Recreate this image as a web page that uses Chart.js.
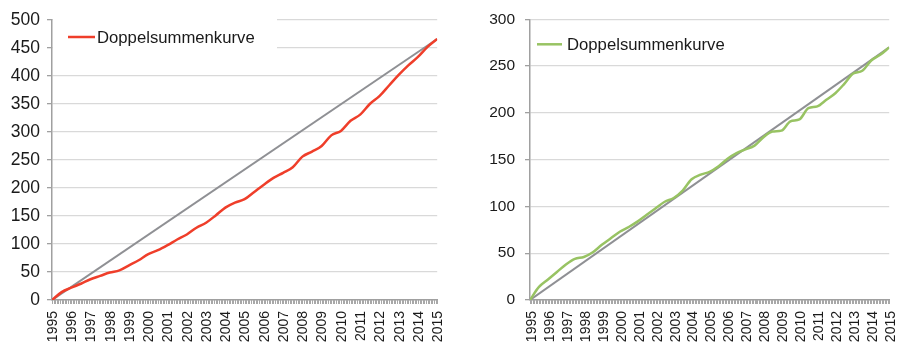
<!DOCTYPE html>
<html>
<head>
<meta charset="utf-8">
<script src="https://cdn.jsdelivr.net/npm/chart.js"></script>
<style>
  html, body { margin: 0; padding: 0; background: #fff; }
  #wrap { position: relative; width: 917px; height: 343px; overflow: hidden; }
  #left { position: absolute; left: 0; top: 0; }
  #right { position: absolute; left: 465px; top: 0; }
</style>
</head>
<body>
<div id="wrap">
  <canvas id="left" width="465" height="343"></canvas>
  <canvas id="right" width="452" height="343"></canvas>
</div>
<script>
// half-year sample points
const periods = [1995, 1995.5, 1996, 1996.5, 1997, 1997.5, 1998, 1998.5, 1999, 1999.5,
  2000, 2000.5, 2001, 2001.5, 2002, 2002.5, 2003, 2003.5, 2004, 2004.5,
  2005, 2005.5, 2006, 2006.5, 2007, 2007.5, 2008, 2008.5, 2009, 2009.5,
  2010, 2010.5, 2011, 2011.5, 2012, 2012.5, 2013, 2013.5, 2014, 2014.5, 2015];
const yearLabels = [1995, 1996, 1997, 1998, 1999, 2000, 2001, 2002, 2003, 2004,
  2005, 2006, 2007, 2008, 2009, 2010, 2011, 2012, 2013, 2014, 2015];

const leftValues = [0, 14, 22, 29, 37, 43, 49, 53, 62, 71,
  82, 89, 98, 108, 117, 129, 138, 151, 165, 174,
  180, 193, 206, 218, 227, 237, 256, 265, 275, 294,
  302, 320, 331, 350, 364, 383, 402, 419, 434, 452, 466];
const rightValues = [0, 14, 22, 30, 38, 44, 46, 51, 59, 66,
  73, 78, 84, 91, 98, 105, 109, 117, 129, 134,
  137, 143, 151, 157, 161, 165, 174, 180, 181, 191,
  193, 205, 207, 214, 221, 231, 242, 245, 256, 262, 270];

// straight reference line: start and end value
const leftDiagonal = [0, 466];
const rightDiagonal = [0, 270];

const leftTicks = [0, 50, 100, 150, 200, 250, 300, 350, 400, 450, 500];
const rightTicks = [0, 50, 100, 150, 200, 250, 300];

const seriesName = 'Doppelsummenkurve';
const FONT = "'Liberation Sans', Arial, sans-serif";

// draws the legend inside the plot, on a white patch
const insideLegend = {
  id: 'insideLegend',
  beforeDatasetsDraw(chart, args, opts) {
    const { ctx, chartArea } = chart;
    const ds = chart.data.datasets[0];
    ctx.save();
    if (opts.patch) {
      ctx.fillStyle = '#fff';
      ctx.fillRect(chartArea.left + 1, chartArea.top - 2, opts.patch[0], opts.patch[1]);
    }
    const x = chartArea.left + opts.dx, y = chartArea.top + opts.dy;
    ctx.strokeStyle = ds.borderColor;
    ctx.lineWidth = 2.5;
    ctx.beginPath();
    ctx.moveTo(x, y);
    ctx.lineTo(x + opts.len, y);
    ctx.stroke();
    ctx.fillStyle = '#1a1a1a';
    ctx.font = opts.size + 'px ' + FONT;
    ctx.textBaseline = 'middle';
    ctx.fillText(ds.label, x + opts.len + opts.gap, y + 1);
    ctx.restore();
  }
};

// monthly hatch marks under the x axis
const monthHatch = {
  id: 'monthHatch',
  afterDraw(chart) {
    const { ctx, chartArea, scales } = chart;
    const xs = scales.x;
    ctx.save();
    ctx.strokeStyle = '#a8a8a8';
    ctx.lineWidth = 1;
    ctx.beginPath();
    for (let m = 0; m <= 240; m++) {
      const px = Math.round(xs.getPixelForValue(1995 + m / 12)) + 0.5;
      ctx.moveTo(px, chartArea.bottom);
      ctx.lineTo(px, chartArea.bottom + 4);
    }
    ctx.stroke();
    ctx.restore();
  }
};

function makeChart(id, values, diagonal, ticks, color, cfg) {
  const yMax = ticks[ticks.length - 1];
  return new Chart(document.getElementById(id), {
    type: 'line',
    data: {
      datasets: [
        {
          label: seriesName,
          data: periods.map((p, i) => ({ x: p, y: values[i] })),
          borderColor: color,
          borderWidth: 2.5,
          pointRadius: 0,
          cubicInterpolationMode: 'monotone'
        },
        {
          label: 'diagonal',
          data: [{ x: periods[0], y: diagonal[0] }, { x: periods[periods.length - 1], y: diagonal[1] }],
          borderColor: '#8f9094',
          borderWidth: 2,
          pointRadius: 0
        }
      ]
    },
    options: {
      responsive: false,
      animation: false,
      devicePixelRatio: 1,
      layout: { padding: cfg.pad },
      plugins: {
        legend: { display: false },
        tooltip: { enabled: false },
        insideLegend: cfg.legend
      },
      scales: {
        x: {
          type: 'linear',
          min: yearLabels[0],
          max: yearLabels[yearLabels.length - 1],
          afterBuildTicks: s => { s.ticks = yearLabels.map(v => ({ value: v })); },
          afterFit: s => { s.height = 43; },
          grid: { display: false, drawTicks: false },
          border: { display: true, color: '#a0a0a0', width: 1.5 },
          ticks: {
            autoSkip: false,
            minRotation: 90,
            maxRotation: 90,
            padding: 11,
            labelOffset: cfg.labelOffset,
            color: '#1a1a1a',
            font: { family: FONT, size: 14 },
            callback: v => String(v)
          }
        },
        y: {
          min: 0,
          max: yMax,
          afterBuildTicks: s => { s.ticks = ticks.map(v => ({ value: v })); },
          afterFit: s => { s.width = cfg.axisWidth; },
          grid: { color: '#d9d9d9', lineWidth: 1.3, tickLength: 5, tickColor: '#a0a0a0' },
          border: { display: true, color: '#a0a0a0', width: 1.5 },
          ticks: {
            padding: cfg.yPad,
            color: '#1a1a1a',
            font: { family: FONT, size: cfg.ySize },
            callback: v => String(v)
          }
        }
      }
    },
    plugins: [insideLegend, monthHatch]
  });
}

makeChart('left', leftValues, leftDiagonal, leftTicks, '#ef3e2a', {
  axisWidth: 52, yPad: 7, ySize: 17.5, labelOffset: 1,
  pad: { top: 20, right: 5, left: 0, bottom: 0 },
  legend: { dx: 16, dy: 17, len: 27, gap: 2, size: 16.7, patch: [224, 32] }
});
makeChart('right', rightValues, rightDiagonal, rightTicks, '#98c363', {
  axisWidth: 65, yPad: 10, ySize: 15.5, labelOffset: 2,
  pad: { top: 18, right: 4, left: 0, bottom: 0 },
  legend: { dx: 7, dy: 25, len: 25, gap: 5, size: 16.7 }
});
</script>
</body>
</html>
